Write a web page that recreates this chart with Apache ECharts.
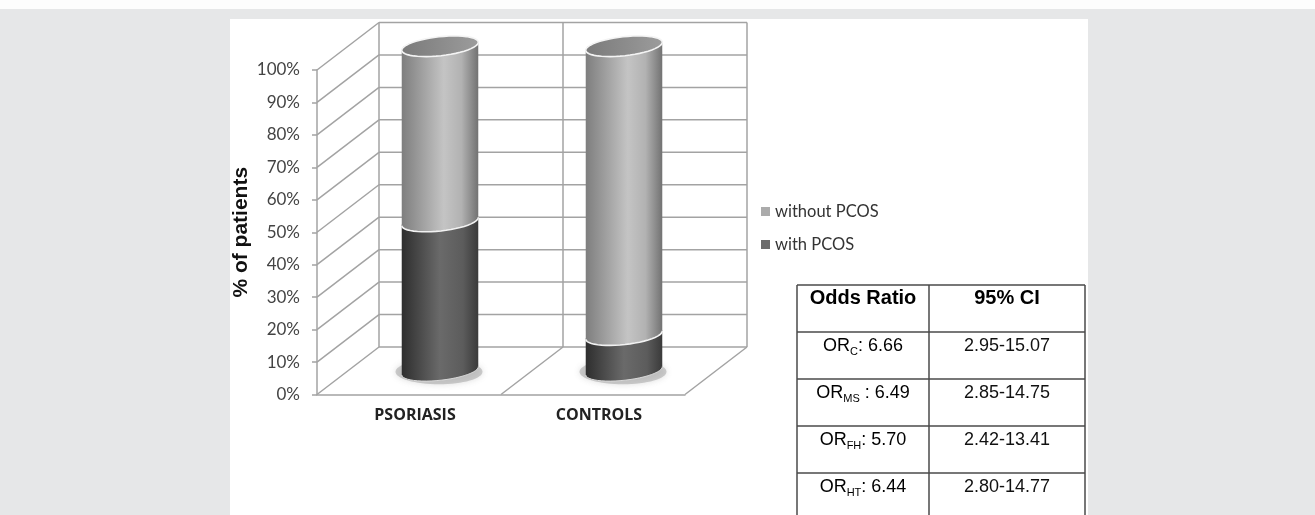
<!DOCTYPE html>
<html lang="en">
<head>
  <meta charset="utf-8">
  <style>
    html, body { margin: 0; height: 100%; background: #e6e7e8; }
    #strip { position: absolute; left: 0; top: 0; width: 1315px; height: 9px; background: #fdfdfd; }
    #panel { position: absolute; left: 230px; top: 19px; width: 858px; height: 496px; background: #ffffff; }
    #container { position: absolute; left: 0; top: 0; width: 1315px; height: 515px; }
  </style>
</head>
<body>
  <div id="strip"></div>
  <div id="panel"></div>
  <div id="container"></div>

  <script src="https://cdn.jsdelivr.net/npm/echarts@6/dist/echarts.min.js"></script>
  <script type="text/javascript">
    // data
    var categories = ['PSORIASIS', 'CONTROLS'];
    var withPcos = [46, 11];
    var withoutPcos = [54, 89];
    var yTicks = [0, 10, 20, 30, 40, 50, 60, 70, 80, 90, 100];

    // odds ratio table
    var orSubs = ['C', 'MS', 'FH', 'HT'];
    var orSeps = [': ', ' : ', ': ', ': '];
    var orValues = ['6.66', '6.49', '5.70', '6.44'];
    var ciValues = ['2.95-15.07', '2.85-14.75', '2.42-13.41', '2.80-14.77'];

    // 3d look
    var DX = 62, DY = -47.5;
    var RX = 38.5, RY = 9.5, TILT = -0.11;
    var WALL = '#a3a3a3';

    var dom = document.getElementById('container');
    var myChart = echarts.init(dom, null, { renderer: 'canvas' });

    function ellPts(cx, cy, t0, t1, n) {
      var pts = [];
      for (var k = 0; k <= n; k++) {
        var th = t0 + (t1 - t0) * k / n;
        pts.push([
          cx + RX * Math.cos(th) * Math.cos(TILT) - RY * Math.sin(th) * Math.sin(TILT),
          cy + RX * Math.cos(th) * Math.sin(TILT) + RY * Math.sin(th) * Math.cos(TILT)
        ]);
      }
      return pts;
    }

    function grad(stops) {
      return new echarts.graphic.LinearGradient(0, 0, 1, 0, stops);
    }

    var darkFill = [
      { offset: 0, color: '#2e2e2e' }, { offset: 0.5, color: '#6a6a6a' },
      { offset: 0.8, color: '#5c5c5c' }, { offset: 1, color: '#3a3a3a' }
    ];
    var lightFill = [
      { offset: 0, color: '#7e7e7e' }, { offset: 0.55, color: '#c4c4c4' },
      { offset: 0.78, color: '#b2b2b2' }, { offset: 1, color: '#727272' }
    ];

    function cylinder(fill, isBottom, isTop) {
      return function (params, api) {
        var i = api.value(0);
        var p0 = api.coord([i, api.value(1)]);
        var p1 = api.coord([i, api.value(2)]);
        var cx = p0[0] + DX / 2;
        var yb = p0[1] + DY / 2;
        var yt = p1[1] + DY / 2;
        var children = [];
        if (isBottom) {
          children.push({
            type: 'ellipse',
            shape: { cx: cx - 1, cy: yb + 1, rx: RX + 5, ry: RY + 3 },
            style: { fill: 'rgba(150,150,150,0.45)', shadowBlur: 6, shadowColor: 'rgba(110,110,110,0.5)' }
          });
        }
        var body = ellPts(cx, yt, Math.PI, 2 * Math.PI, 24).concat(ellPts(cx, yb, 0, Math.PI, 24));
        children.push({
          type: 'polygon',
          shape: { points: body },
          style: { fill: grad(fill) }
        });
        children.push({
          type: 'polyline',
          shape: { points: ellPts(cx, yb, 0, Math.PI, 24) },
          style: { stroke: isBottom ? '#d8d8d8' : '#f2f2f2', lineWidth: isBottom ? 1 : 1.6, fill: null }
        });
        if (isTop) {
          children.push({
            type: 'polygon',
            shape: { points: ellPts(cx, yt, 0, 2 * Math.PI, 48) },
            style: {
              fill: grad([{ offset: 0, color: '#7a7a7a' }, { offset: 1, color: '#9c9c9c' }]),
              stroke: '#f4f4f4', lineWidth: 1.6
            }
          });
        }
        return { type: 'group', children: children };
      };
    }

    function walls(params, api) {
      var cs = params.coordSys;
      var x0 = cs.x, x1 = cs.x + cs.width, xm = cs.x + cs.width / 2;
      var yZero = api.coord([0, 0])[1];
      var yTop = api.coord([0, yTicks[yTicks.length - 1]])[1];
      var ls = { stroke: WALL, lineWidth: 1.5 };
      var ch = [];
      function ln(a, b, c, d) {
        ch.push({ type: 'line', shape: { x1: a, y1: b, x2: c, y2: d }, style: ls });
      }
      yTicks.forEach(function (v) {
        var y = api.coord([0, v])[1];
        ln(x0 + DX, y + DY, x1 + DX, y + DY);
        ln(x0, y, x0 + DX, y + DY);
      });
      [x0, xm, x1].forEach(function (x) {
        ln(x + DX, yZero + DY, x + DX, yTop + DY);
      });
      ln(xm, yZero, xm + DX, yZero + DY);
      ln(x1, yZero, x1 + DX, yZero + DY);
      return { type: 'group', children: ch };
    }

    var withData = categories.map(function (c, i) { return [i, 0, withPcos[i]]; });
    var withoutData = categories.map(function (c, i) { return [i, withPcos[i], withPcos[i] + withoutPcos[i]]; });

    // table graphics
    var TL = 797, TM = 929, TR = 1085, TT = 285, RH = 47;
    var tableEls = [];
    var tStroke = { stroke: '#4a4a4a', lineWidth: 1.5 };
    for (var r = 0; r <= 5; r++) {
      tableEls.push({ type: 'line', shape: { x1: TL, y1: TT + r * RH, x2: TR, y2: TT + r * RH }, style: tStroke });
    }
    [TL, TM, TR].forEach(function (x) {
      tableEls.push({ type: 'line', shape: { x1: x, y1: TT, x2: x, y2: TT + 5 * RH }, style: tStroke });
    });
    var headFont = 'bold 20px "Liberation Sans", Arial, sans-serif';
    tableEls.push({ type: 'text', style: { text: 'Odds Ratio', x: (TL + TM) / 2, y: TT + 13, align: 'center', verticalAlign: 'middle', font: headFont, fill: '#000' } });
    tableEls.push({ type: 'text', style: { text: '95% CI', x: (TM + TR) / 2, y: TT + 13, align: 'center', verticalAlign: 'middle', font: headFont, fill: '#000' } });
    orSubs.forEach(function (s, i) {
      var y = TT + (i + 1) * RH + 14;
      tableEls.push({
        type: 'text',
        style: {
          text: '{m|OR}{s|' + s + '}{m|' + orSeps[i] + orValues[i] + '}',
          x: (TL + TM) / 2, y: y, align: 'center', verticalAlign: 'middle',
          rich: {
            m: { fontSize: 18, fontFamily: '"Liberation Sans", Arial', color: '#111', lineHeight: 22 },
            s: { fontSize: 11, fontFamily: '"Liberation Sans", Arial', color: '#111', lineHeight: 13, verticalAlign: 'bottom' }
          }
        }
      });
      tableEls.push({
        type: 'text',
        style: { text: ciValues[i], x: (TM + TR) / 2, y: y, align: 'center', verticalAlign: 'middle', font: '18px "Liberation Sans", Arial, sans-serif', fill: '#111' }
      });
    });

    var option = {
      animation: false,
      grid: { left: 317, right: 630, top: 70, bottom: 120.5 },
      legend: {
        data: ['without PCOS', 'with PCOS'],
        orient: 'vertical',
        left: 756, top: 198,
        itemWidth: 9, itemHeight: 9, itemGap: 16,
        icon: 'rect',
        textStyle: { fontFamily: 'Lato', fontSize: 16.5, color: '#333' }
      },
      xAxis: {
        type: 'category',
        data: categories,
        axisLine: { lineStyle: { color: WALL, width: 1.5 } },
        axisTick: { show: false },
        axisLabel: { margin: 13, padding: [0, 0, 0, 12], fontFamily: '"Open Sans", Lato', fontWeight: 'bold', fontSize: 16, color: '#222' },
        splitLine: { show: false }
      },
      yAxis: {
        type: 'value',
        min: 0, max: 100, interval: 10,
        name: '% of patients',
        nameLocation: 'middle',
        nameGap: 65,
        nameRotate: 90,
        nameTextStyle: { fontFamily: '"Liberation Sans", Arial', fontWeight: 'bold', fontSize: 21, color: '#111' },
        axisLine: { show: true, lineStyle: { color: WALL, width: 1.5 } },
        axisTick: { show: true, length: 5, lineStyle: { color: WALL, width: 1.5 } },
        axisLabel: { formatter: '{value}%', margin: 17, fontFamily: 'Lato', fontSize: 17, color: '#444' },
        splitLine: { show: false }
      },
      series: [
        {
          type: 'custom', name: 'walls', z: 1, clip: false,
          data: [[0, 0]], renderItem: walls, silent: true
        },
        {
          type: 'custom', name: 'with PCOS', z: 2, clip: false,
          itemStyle: { color: '#6b6b6b' },
          encode: { x: 0, y: [1, 2] },
          data: withData, renderItem: cylinder(darkFill, true, false)
        },
        {
          type: 'custom', name: 'without PCOS', z: 3, clip: false,
          itemStyle: { color: '#ababab' },
          encode: { x: 0, y: [1, 2] },
          data: withoutData, renderItem: cylinder(lightFill, false, true)
        }
      ],
      graphic: tableEls
    };

    myChart.setOption(option);
    window.addEventListener('resize', myChart.resize);
  </script>
</body>
</html>
